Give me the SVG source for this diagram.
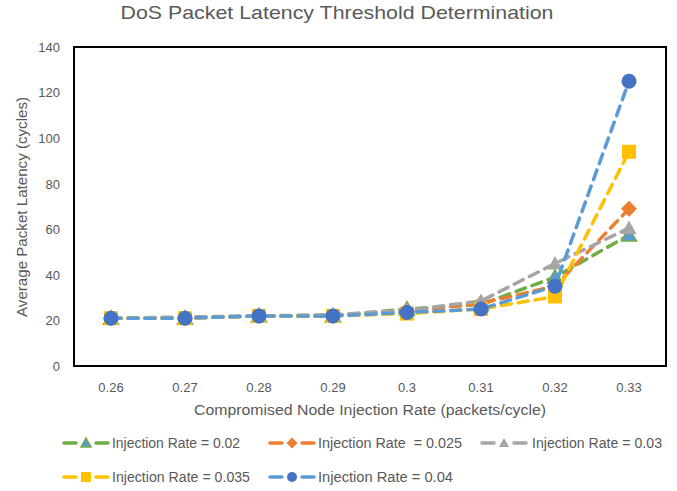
<svg xmlns="http://www.w3.org/2000/svg" width="677" height="491" viewBox="0 0 677 491">
  <style>
    text { font-family: "Liberation Sans", Arial, sans-serif; fill: #595959; }
    .title { font-size: 19px; }
    .tick { font-size: 13px; }
    .axis-title { font-size: 14px; }
    .legend-text { font-size: 14px; }
    .series { fill: none; stroke-width: 3.5; stroke-dasharray: 10 7; stroke-linecap: round; stroke-linejoin: round; }
    .leg-line { stroke-width: 3.5; stroke-linecap: round; }
  </style>
  <defs>
    <polygon id="tri" points="0,-7.5 7.5,6 -7.5,6"/>
    <polygon id="dia" points="0,-8 8,0 0,8 -8,0"/>
    <rect id="sq" x="-7" y="-7" width="14" height="14"/>
    <circle id="dot" r="7.5"/>
    <polygon id="tri-s" points="0,-5 5,4 -5,4"/>
    <polygon id="dia-s" points="0,-5.5 5.5,0 0,5.5 -5.5,0"/>
    <rect id="sq-s" x="-5" y="-5" width="10" height="10"/>
    <circle id="dot-s" r="5"/>
  </defs>

  <rect x="0" y="0" width="677" height="491" fill="#ffffff"/>

  <!-- title -->
  <text class="title" x="337" y="19" text-anchor="middle" textLength="433" lengthAdjust="spacingAndGlyphs">DoS Packet Latency Threshold Determination</text>

  <!-- plot frame -->
  <rect id="plot-area" x="74" y="47" width="592" height="319" fill="#ffffff" stroke="#000000" stroke-width="2"/>

  <!-- y axis labels -->
  <g id="y-axis" text-anchor="end">
    <text class="tick" x="60" y="51.5">140</text>
    <text class="tick" x="60" y="97">120</text>
    <text class="tick" x="60" y="142.5">100</text>
    <text class="tick" x="60" y="188.5">80</text>
    <text class="tick" x="60" y="234">60</text>
    <text class="tick" x="60" y="279.5">40</text>
    <text class="tick" x="60" y="325">20</text>
    <text class="tick" x="60" y="370.5">0</text>
  </g>
  <text class="axis-title" transform="translate(27 207) rotate(-90)" text-anchor="middle" textLength="220" lengthAdjust="spacingAndGlyphs">Average Packet Latency (cycles)</text>

  <!-- x axis labels -->
  <g id="x-axis" text-anchor="middle">
    <text class="tick" x="111" y="392">0.26</text>
    <text class="tick" x="185" y="392">0.27</text>
    <text class="tick" x="259" y="392">0.28</text>
    <text class="tick" x="333" y="392">0.29</text>
    <text class="tick" x="407" y="392">0.3</text>
    <text class="tick" x="481" y="392">0.31</text>
    <text class="tick" x="555" y="392">0.32</text>
    <text class="tick" x="629" y="392">0.33</text>
  </g>
  <text class="axis-title" x="370" y="415" text-anchor="middle" textLength="352" lengthAdjust="spacingAndGlyphs">Compromised Node Injection Rate (packets/cycle)</text>

  <!-- data series -->
  <g id="series">
    <g id="rate-0.02">
      <polyline class="series" stroke="#70AD47" points="111,318.2 185,318.2 259,315.9 333,315.9 407,309 481,304.5 555,277.1 629,235"/>
      <g fill="#5B9BD5" stroke="#70AD47" stroke-width="1.5">
        <use href="#tri" x="111" y="318.2"/><use href="#tri" x="185" y="318.2"/>
        <use href="#tri" x="259" y="315.9"/><use href="#tri" x="333" y="315.9"/>
        <use href="#tri" x="407" y="309"/><use href="#tri" x="481" y="304.5"/>
        <use href="#tri" x="555" y="277.1"/><use href="#tri" x="629" y="235"/>
      </g>
    </g>
    <g id="rate-0.025">
      <polyline class="series" stroke="#ED7D31" points="111,318.2 185,318.2 259,315.9 333,315.9 407,311.3 481,303.3 555,286.2 629,208.8"/>
      <g fill="#ED7D31">
        <use href="#dia" x="111" y="318.2"/><use href="#dia" x="185" y="318.2"/>
        <use href="#dia" x="259" y="315.9"/><use href="#dia" x="333" y="315.9"/>
        <use href="#dia" x="407" y="311.3"/><use href="#dia" x="481" y="303.3"/>
        <use href="#dia" x="555" y="286.2"/><use href="#dia" x="629" y="208.8"/>
      </g>
    </g>
    <g id="rate-0.03">
      <polyline class="series" stroke="#A5A5A5" points="111,318.2 185,317 259,315.9 333,314.7 407,310.2 481,301.1 555,263.5 629,228.1"/>
      <g fill="#A5A5A5">
        <use href="#tri" x="111" y="318.2"/><use href="#tri" x="185" y="317"/>
        <use href="#tri" x="259" y="315.9"/><use href="#tri" x="333" y="314.7"/>
        <use href="#tri" x="407" y="310.2"/><use href="#tri" x="481" y="301.1"/>
        <use href="#tri" x="555" y="263.5"/><use href="#tri" x="629" y="228.1"/>
      </g>
    </g>
    <g id="rate-0.035">
      <polyline class="series" stroke="#FFC000" points="111,318.2 185,318.2 259,315.9 333,315.9 407,313.6 481,309 555,296.5 629,151.8"/>
      <g fill="#FFC000">
        <use href="#sq" x="111" y="318.2"/><use href="#sq" x="185" y="318.2"/>
        <use href="#sq" x="259" y="315.9"/><use href="#sq" x="333" y="315.9"/>
        <use href="#sq" x="407" y="313.6"/><use href="#sq" x="481" y="309"/>
        <use href="#sq" x="555" y="296.5"/><use href="#sq" x="629" y="151.8"/>
      </g>
    </g>
    <g id="rate-0.04">
      <polyline class="series" stroke="#5B9BD5" points="111,318.2 185,318.2 259,315.9 333,315.9 407,312.5 481,309 555,286.2 629,81.2"/>
      <g fill="#4472C4">
        <use href="#dot" x="111" y="318.2"/><use href="#dot" x="185" y="318.2"/>
        <use href="#dot" x="259" y="315.9"/><use href="#dot" x="333" y="315.9"/>
        <use href="#dot" x="407" y="312.5"/><use href="#dot" x="481" y="309"/>
        <use href="#dot" x="555" y="286.2"/><use href="#dot" x="629" y="81.2"/>
      </g>
    </g>
  </g>

  <!-- legend -->
  <g id="legend">
    <g id="legend-0.02">
      <line class="leg-line" x1="64" y1="443" x2="76" y2="443" stroke="#70AD47"/>
      <line class="leg-line" x1="96" y1="443" x2="108" y2="443" stroke="#70AD47"/>
      <use href="#tri-s" x="86" y="443" fill="#5B9BD5" stroke="#70AD47" stroke-width="1.5"/>
      <text class="legend-text" x="112" y="448" textLength="128" lengthAdjust="spacingAndGlyphs">Injection Rate = 0.02</text>
    </g>
    <g id="legend-0.025">
      <line class="leg-line" x1="270" y1="443" x2="282" y2="443" stroke="#ED7D31"/>
      <line class="leg-line" x1="302" y1="443" x2="314" y2="443" stroke="#ED7D31"/>
      <use href="#dia-s" x="292" y="443" fill="#ED7D31"/>
      <text class="legend-text" x="318" y="448" xml:space="preserve" textLength="144" lengthAdjust="spacingAndGlyphs">Injection Rate  = 0.025</text>
    </g>
    <g id="legend-0.03">
      <line class="leg-line" x1="482" y1="443" x2="494" y2="443" stroke="#A5A5A5"/>
      <line class="leg-line" x1="514" y1="443" x2="526" y2="443" stroke="#A5A5A5"/>
      <use href="#tri-s" x="504" y="443" fill="#A5A5A5"/>
      <text class="legend-text" x="532" y="448" textLength="130" lengthAdjust="spacingAndGlyphs">Injection Rate = 0.03</text>
    </g>
    <g id="legend-0.035">
      <line class="leg-line" x1="64" y1="477" x2="76" y2="477" stroke="#FFC000"/>
      <line class="leg-line" x1="96" y1="477" x2="108" y2="477" stroke="#FFC000"/>
      <use href="#sq-s" x="86" y="477" fill="#FFC000"/>
      <text class="legend-text" x="112" y="482" textLength="138" lengthAdjust="spacingAndGlyphs">Injection Rate = 0.035</text>
    </g>
    <g id="legend-0.04">
      <line class="leg-line" x1="270" y1="477" x2="282" y2="477" stroke="#5B9BD5"/>
      <line class="leg-line" x1="302" y1="477" x2="314" y2="477" stroke="#5B9BD5"/>
      <use href="#dot-s" x="292" y="477" fill="#4472C4"/>
      <text class="legend-text" x="318" y="482" textLength="135" lengthAdjust="spacingAndGlyphs">Injection Rate = 0.04</text>
    </g>
  </g>
</svg>
